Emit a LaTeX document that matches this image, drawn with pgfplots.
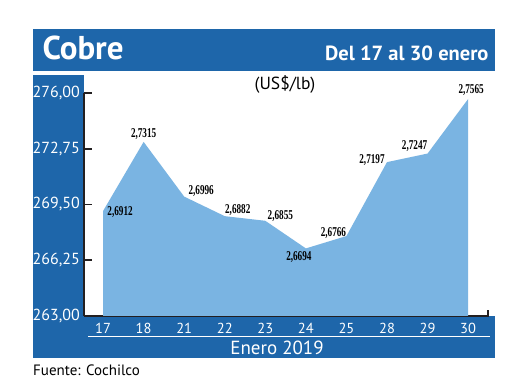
\documentclass[border=0pt]{standalone}
\usepackage{pgfplots}
\usepackage{pgfplotstable}
\pgfplotsset{compat=1.18}
\usepackage{fontspec}
\setmainfont{PT Sans}
\newfontfamily\lblfont[FakeStretch=0.68]{Liberation Serif}
\definecolor{hdr}{RGB}{30,102,170}
\definecolor{fillb}{RGB}{122,180,226}
\definecolor{axc}{RGB}{35,31,32}

\pgfplotstableread{
x y lbl dx dy
0 269.12 2,6912 17 -1
1 273.15 2,7315 0 8
2 269.96 2,6996 17 6
3 268.82 2,6882 13 6
4 268.55 2,6855 15 5
5 266.94 2,6694 -7 -9
6 267.66 2,6766 -13 3
7 271.97 2,7197 -15 2
8 272.47 2,7247 -13 7
9 275.65 2,7565 3 9
}\datatab

\begin{document}
\begin{tikzpicture}[x=1pt,y=1pt]
\fill[white] (0,0) rectangle (520,390);
\useasboundingbox (0,0) rectangle (520,390);
\fill[hdr] (33,319) rectangle (495,361);
\fill[hdr] (33,32) rectangle (84,315);
\fill[hdr] (84,32) rectangle (495,74);
\draw[white, line width=1pt] (88,53) -- (490,53);
\node[anchor=west, text=white, font=\bfseries\fontsize{33}{33}\selectfont] at (39,342) {Cobre};
\node[anchor=east, text=white, font=\bfseries\fontsize{20.5}{20.5}\selectfont] at (492,337) {Del 17 al 30 enero};
\node[font=\fontsize{17.5}{17.5}\selectfont] at (285,306) {(US\$/lb)};
\node[text=white, font=\fontsize{19}{19}\selectfont] at (277,42) {Enero 2019};
\node[anchor=west, inner sep=0pt, font=\fontsize{15}{15}\selectfont] at (33,20) {Fuente: Cochilco};
\begin{axis}[
  at={(84pt,74pt)}, anchor=south west,
  scale only axis, width=404pt, height=223pt,
  xmin=-0.47, xmax=9.49, ymin=263, ymax=276,
  clip=false,
  axis lines=left,
  axis line style={axc, line width=1.6pt, -},
  /pgf/number format/assume math mode=true,
  xtick={0,...,9},
  xticklabels={17,18,21,22,23,24,25,28,29,30},
  xtick style={draw=none},
  xticklabel style={text=white, inner sep=0pt, yshift=-7pt, font=\fontsize{14.5}{14.5}\selectfont},
  ytick={263,266.25,269.5,272.75,276},
  yticklabels={{263,00},{266,25},{269,50},{272,75},{276,00}},
  tick align=inside,
  major tick length=8pt,
  ytick style={axc, line width=1.6pt},
  yticklabel style={text=white, inner sep=0pt, xshift=-4pt, font=\fontsize{16}{16}\selectfont},
]
\addplot[fill=fillb, draw=none] table[x=x,y=y]{\datatab} \closedcycle;
\addplot[draw=none, mark=none, nodes near coords, point meta=explicit symbolic,
  visualization depends on={\thisrow{dx} \as \dx},
  visualization depends on={\thisrow{dy} \as \dy},
  every node near coord/.append style={anchor=center, inner sep=0pt, xshift=\dx pt, yshift=\dy pt, text=black, font=\lblfont\bfseries\fontsize{13.5}{13.5}\selectfont}]
  table[x=x,y=y,meta=lbl]{\datatab};
\end{axis}
\draw[axc, line width=1.6pt] (488,73.2) -- (488,80);
\end{tikzpicture}
\end{document}
